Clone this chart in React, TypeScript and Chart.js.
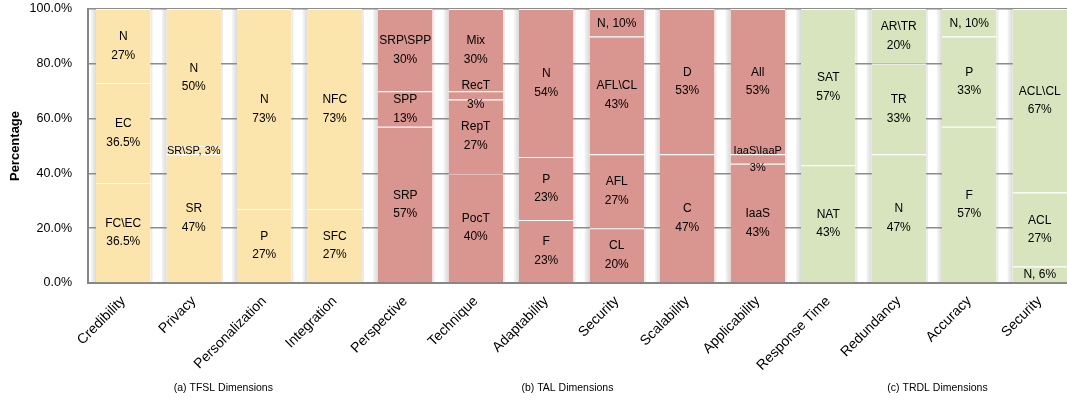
import React, { useEffect, useRef } from "react";
import { Chart, registerables } from "chart.js";

Chart.register(...registerables);

const categories = [
  "Credibility", "Privacy", "Personalization", "Integration",
  "Perspective", "Technique", "Adaptability", "Security", "Scalability", "Applicability",
  "Response Time", "Redundancy", "Accuracy", "Security",
];

// group index per category: 0 = TFSL, 1 = TAL, 2 = TRDL
const categoryGroup = [0, 0, 0, 0, 1, 1, 1, 1, 1, 1, 2, 2, 2, 2];
const groupColors = ["#FCE4AD", "#D9958F", "#D7E4BD"];
const groupTitles = ["(a) TFSL Dimensions", "(b) TAL Dimensions", "(c) TRDL Dimensions"];
const groupTitleAt = [1.42, 6.3, 11.55];

// stacked segments, bottom to top
const level1 = [36.5, 47, 27, 27, 57, 40, 23, 20, 47, 43.5, 43, 47, 57, 6];
const level1Names = ["FC\\EC", "SR", "P", "SFC", "SRP", "PocT", "F", "CL", "C", "IaaS", "NAT", "N", "F", "N"];
const level2 = [36.5, 3, 73, 73, 13, 27, 23, 27, 53, 3.5, 57, 33, 33, 27];
const level2Names = ["EC", "SR\\SP", "N", "NFC", "SPP", "RepT", "P", "AFL", "D", "IaaS\\IaaP", "SAT", "TR", "P", "ACL"];
const level3 = [27, 50, null, null, 30, 3, 54, 43, null, 53, null, 20, 10, 67];
const level3Names = ["N", "N", "", "", "SRP\\SPP", "RecT", "N", "AFL\\CL", "", "All", "", "AR\\TR", "N", "ACL\\CL"];
const level4 = [null, null, null, null, null, 30, null, 10, null, null, null, null, null, null];
const level4Names = ["", "", "", "", "", "Mix", "", "N", "", "", "", "", "", ""];

// [category, level] pairs drawn as one-line "name, v%" labels
const inlineLabels = [[1, 1], [7, 3], [12, 2], [13, 0]];
// [category, level] pairs drawn with a smaller font
const smallLabels = [[1, 1], [9, 1]];
// [category, level, text] percentages printed rounded in the source
const shownPct: [number, number, string][] = [[9, 0, "43%"], [9, 1, "3%"]];

const yTicks = [0, 20, 40, 60, 80, 100];

const levels = [level1, level2, level3, level4];
const levelNames = [level1Names, level2Names, level3Names, level4Names];

const FONT = "'Liberation Sans', Arial, sans-serif";

const has = (list: number[][], c: number, l: number) => list.some(([a, b]) => a === c && b === l);
const pct = (v: number, c: number, l: number) => {
  const o = shownPct.find(([a, b]) => a === c && b === l);
  if (o) return o[2];
  return Number.isInteger(v) ? `${v}%` : `${v.toFixed(1)}%`;
};

const shadingPlugin = {
  id: "barShading",
  beforeDraw(chart: any) {
    const meta = chart.getDatasetMeta(0);
    const { ctx, chartArea } = chart;
    ctx.save();
    meta.data.forEach((bar: any) => {
      const w = bar.width;
      const l = bar.x - w / 2;
      const r = bar.x + w / 2;
      const h = chartArea.bottom - chartArea.top;
      const g = ctx.createLinearGradient(l - 5, 0, l, 0);
      g.addColorStop(0, "rgba(246,246,246,1)");
      g.addColorStop(1, "rgba(218,218,218,1)");
      ctx.fillStyle = g;
      ctx.fillRect(l - 5, chartArea.top, 5, h);
      ctx.fillStyle = "#ececec";
      ctx.fillRect(r, chartArea.top, 2, h);
    });
    ctx.restore();
  },
};

const labelPlugin = {
  id: "segmentLabels",
  afterDatasetsDraw(chart: any) {
    const { ctx } = chart;
    ctx.save();
    ctx.fillStyle = "#000";
    ctx.textAlign = "center";
    ctx.textBaseline = "middle";
    levels.forEach((values, li) => {
      const meta = chart.getDatasetMeta(li);
      values.forEach((v, ci) => {
        if (v === null || v === undefined) return;
        const bar: any = meta.data[ci];
        const { x, y, base } = bar.getProps(["x", "y", "base"], true);
        const cy = (y + base) / 2;
        const name = levelNames[li][ci];
        const small = has(smallLabels, ci, li);
        ctx.font = `${small ? 11 : 12}px ${FONT}`;
        if (has(inlineLabels, ci, li)) {
          ctx.fillText(`${name}, ${pct(v, ci, li)}`, x, cy + 0.5);
        } else {
          const gap = small ? 17 : 18.5;
          ctx.fillText(name, x, cy - gap / 2);
          ctx.fillText(pct(v, ci, li), x, cy + gap / 2);
        }
      });
    });
    ctx.restore();
  },
};

const groupTitlePlugin = {
  id: "groupTitles",
  afterDraw(chart: any) {
    const { ctx, chartArea } = chart;
    const xs = chart.scales.x;
    ctx.save();
    ctx.fillStyle = "#000";
    ctx.font = `10.5px ${FONT}`;
    ctx.textAlign = "center";
    ctx.textBaseline = "middle";
    groupTitles.forEach((t, i) => {
      ctx.fillText(t, xs.getPixelForValue(groupTitleAt[i]), chartArea.bottom + 105);
    });
    ctx.restore();
  },
};

export default function App() {
  const ref = useRef<HTMLCanvasElement | null>(null);

  useEffect(() => {
    if (!ref.current) return;
    const colors = categoryGroup.map((g) => groupColors[g]);
    const chart = new Chart(ref.current, {
      type: "bar",
      data: {
        labels: categories,
        datasets: levels.map((vals, i) => ({
          label: `level${i + 1}`,
          data: vals,
          backgroundColor: colors,
          borderColor: "#ffffff",
          borderWidth: { top: 1, bottom: 0, left: 0, right: 0 },
          borderSkipped: false,
          categoryPercentage: 0.773,
          barPercentage: 1,
        })),
      },
      options: {
        responsive: true,
        maintainAspectRatio: false,
        animation: false,
        layout: { padding: { top: 9, right: 5, bottom: 0, left: 0 } },
        plugins: {
          legend: { display: false },
          tooltip: { enabled: false },
        },
        scales: {
          x: {
            stacked: true,
            grid: { display: false },
            border: { display: true, color: "#868686", width: 2 },
            ticks: {
              autoSkip: false,
              minRotation: 45,
              maxRotation: 45,
              padding: 2,
              color: "#000",
              font: { family: FONT, size: 14 },
            },
            afterFit(scale: any) {
              scale.height = 118;
            },
          },
          y: {
            stacked: true,
            min: 0,
            max: 100,
            afterBuildTicks(scale: any) {
              scale.ticks = yTicks.map((v) => ({ value: v }));
            },
            grid: { color: "#8c8c8c", lineWidth: 1.5, drawTicks: false },
            border: { display: true, color: "#868686", width: 2 },
            ticks: {
              padding: 16,
              color: "#000",
              font: { family: FONT, size: 12.5 },
              callback: (v: any) => `${Number(v).toFixed(1)}%`,
            },
            title: {
              display: true,
              text: "Percentage",
              color: "#000",
              font: { family: FONT, size: 13, weight: "bold" },
              padding: { top: 8, bottom: 0 },
            },
            afterFit(scale: any) {
              scale.width = 88;
              scale.paddingTop = 0;
              scale.paddingBottom = 0;
            },
          },
        },
      },
      plugins: [shadingPlugin, labelPlugin, groupTitlePlugin],
    } as any);
    return () => chart.destroy();
  }, []);

  return (
    <div style={{ position: "fixed", left: 0, top: 0, width: 1067, height: 401, overflow: "hidden", background: "#fff" }}>
      <div style={{ position: "relative", width: 1080, height: 401 }}>
        <canvas ref={ref} />
      </div>
    </div>
  );
}
